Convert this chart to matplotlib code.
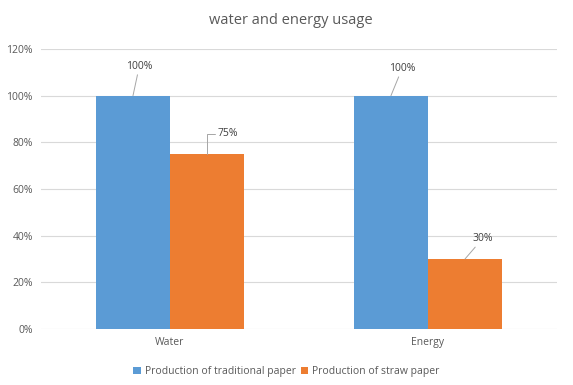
import matplotlib.pyplot as plt
import numpy as np

plt.rcParams['font.family'] = ['Open Sans', 'DejaVu Sans']

# data
categories = ['Water', 'Energy']
series_names = ['Production of traditional paper', 'Production of straw paper']
traditional = [100, 100]
straw = [75, 30]
yticks = [0, 20, 40, 60, 80, 100, 120]

blue = '#5B9BD5'
orange = '#ED7D31'
grey_text = '#595959'

fig = plt.figure(figsize=(5.73, 3.85), dpi=100)
ax = fig.add_axes([0.0716, 0.1455, 0.9004, 0.7272])

x = np.arange(len(categories))
w = 0.287
b1 = ax.bar(x - w / 2, traditional, w, color=blue, label=series_names[0], zorder=2)
b2 = ax.bar(x + w / 2, straw, w, color=orange, label=series_names[1], zorder=2)

ax.set_xlim(-0.5, 1.5)
ax.set_ylim(0, 120)
ax.set_yticks(yticks)
ax.set_yticklabels([f'{t}%' for t in yticks])
ax.set_xticks(x)
ax.set_xticklabels(categories)
ax.tick_params(length=0, labelsize=7.5, colors=grey_text, pad=6)
ax.grid(axis='y', color='#D9D9D9', linewidth=0.8, zorder=0)
for s in ax.spines.values():
    s.set_visible(False)

# data labels with leader lines (offsets in points)
lab_style = dict(fontsize=7.5, color='#404040', ha='center', va='center',
                 textcoords='offset points')
line = dict(arrowstyle='-', color='#A6A6A6', lw=0.7, shrinkA=0, shrinkB=0)

offsets1 = [(4.5, 21), (8, 19.5)]
offsets2 = [(15, 14.5), (12.5, 14.5)]
for i in range(len(categories)):
    ax.annotate(f'{traditional[i]}%', (x[i] - w / 2, traditional[i]),
                xytext=offsets1[i], arrowprops=line, **lab_style)
for i in range(len(categories)):
    arr = dict(line)
    if i == 0:
        arr['connectionstyle'] = 'angle,angleA=0,angleB=90,rad=0'
    ax.annotate(f'{straw[i]}%', (x[i] + w / 2, straw[i]),
                xytext=offsets2[i], arrowprops=arr, **lab_style)

fig.text(0.507, 0.947, 'water and energy usage', fontsize=10.5,
         color=grey_text, ha='center', va='center')

fig.legend(handles=[b1, b2], loc='center', bbox_to_anchor=(0.5, 0.034),
           ncol=2, frameon=False, fontsize=7.5, handlelength=0.7,
           handleheight=0.7, handletextpad=0.4, columnspacing=0.5,
           labelcolor=grey_text)

fig.savefig('out.png', dpi=100)
